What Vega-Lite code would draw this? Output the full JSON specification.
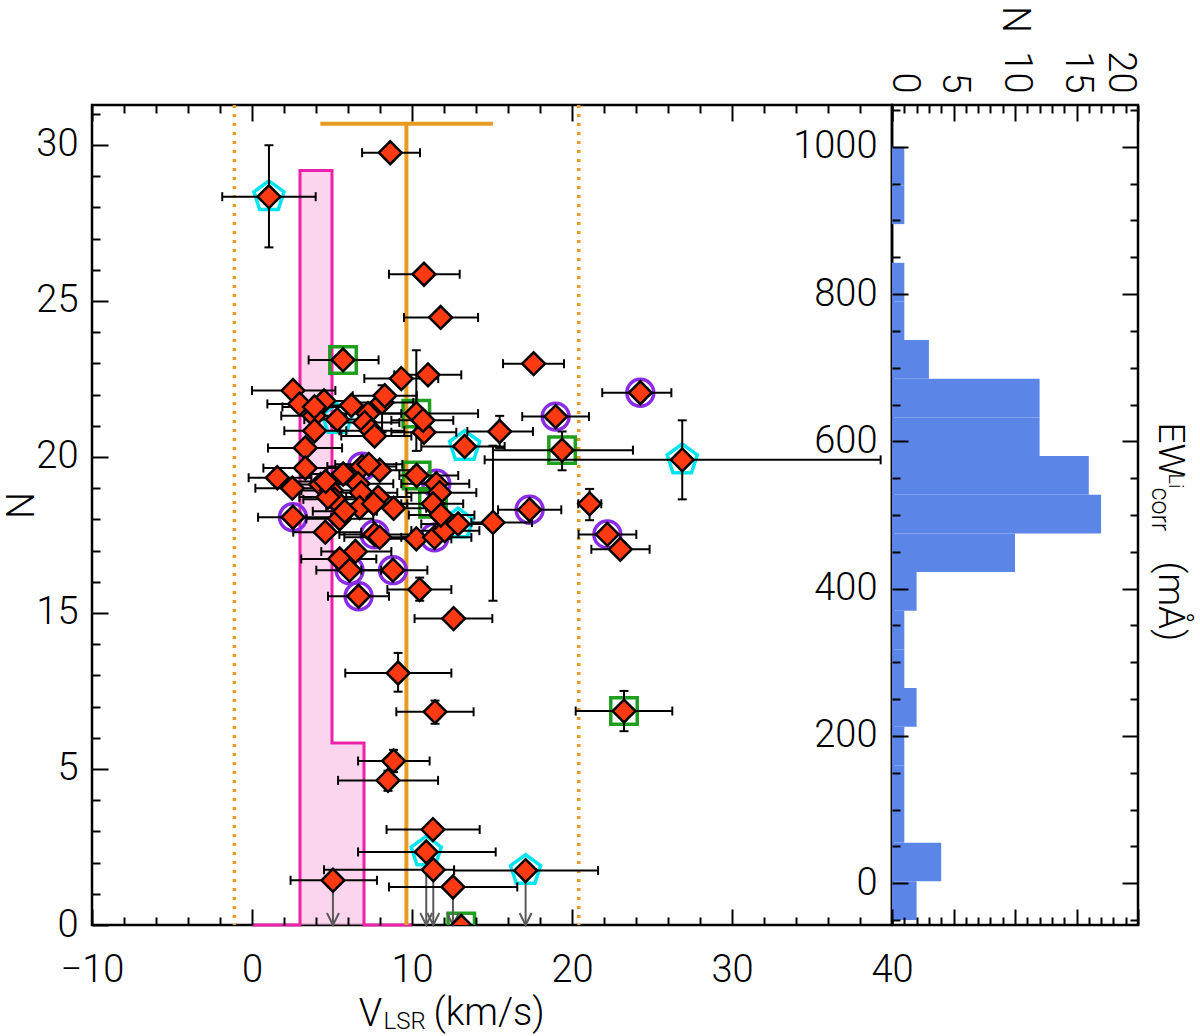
{
  "$schema": "https://vega.github.io/schema/vega-lite/v6.json",
  "background": "white",
  "padding": {"left": 1, "top": 4, "right": 16, "bottom": 0},
  "config": {
    "view": {"stroke": "black", "strokeWidth": 2.5},
    "axis": {
      "labelFont": "Roboto", "labelFontWeight": 300, "labelFontSize": 38, "labelColor": "black",
      "titleFont": "Roboto", "titleFontWeight": 300, "titleColor": "black",
      "tickColor": "black", "tickWidth": 2, "domain": false, "grid": false,
      "labelOverlap": false, "labelFlush": false
    }
  },
  "datasets": {
    "pinkBins": [
      {"v0": 3, "v1": 5, "n": 24.18},
      {"v0": 5, "v1": 7, "n": 5.83}
    ],
    "pinkOutline": [
      {"v": 0, "n": 0}, {"v": 3, "n": 24.18}, {"v": 5, "n": 5.83}, {"v": 7, "n": 0}, {"v": 10, "n": 0}
    ],
    "orange": [{"v": 9.65, "top": 1025, "lo": 4.27, "hi": 15.06}],
    "dotted": [{"v": -1.1}, {"v": 20.42}],
    "stars": [
      {"v":8.64,"vlo":6.88,"vhi":10.5,"ew":986},
      {"v":1.06,"vlo":-1.86,"vhi":3.98,"ew":927,"elo":859,"ehi":996,"mk":"pent"},
      {"v":10.75,"vlo":8.56,"vhi":12.98,"ew":823},
      {"v":11.79,"vlo":9.5,"vhi":14.13,"ew":765},
      {"v":5.69,"vlo":3.54,"vhi":7.91,"ew":708,"mk":"sq"},
      {"v":9.33,"vlo":7.02,"vhi":11.64,"ew":683},
      {"v":11.0,"vlo":8.89,"vhi":13.08,"ew":688},
      {"v":10.27,"vlo":7.46,"vhi":14.13,"ew":636,"elo":586,"ehi":721,"mk":"sq"},
      {"v":2.56,"vlo":0.0,"vhi":5.21,"ew":667},
      {"v":2.98,"vlo":0.96,"vhi":4.96,"ew":649},
      {"v":4.5,"vlo":2.77,"vhi":6.21,"ew":653},
      {"v":6.21,"vlo":4.21,"vhi":8.21,"ew":647},
      {"v":8.13,"vlo":6.02,"vhi":10.08,"ew":651,"elo":611,"ehi":674},
      {"v":8.3,"vlo":6.3,"vhi":10.3,"ew":660},
      {"v":3.88,"vlo":1.83,"vhi":5.89,"ew":633},
      {"v":5.33,"vlo":3.27,"vhi":7.58,"ew":628,"mk":"pent"},
      {"v":7.25,"vlo":5.27,"vhi":9.33,"ew":636},
      {"v":7.04,"vlo":4.96,"vhi":9.21,"ew":624},
      {"v":7.46,"vlo":5.46,"vhi":9.52,"ew":613},
      {"v":7.66,"vlo":5.58,"vhi":9.96,"ew":606},
      {"v":3.91,"vlo":2.02,"vhi":5.89,"ew":613},
      {"v":10.75,"vlo":8.71,"vhi":12.77,"ew":611},
      {"v":10.69,"vlo":8.71,"vhi":12.58,"ew":627},
      {"v":13.29,"vlo":10.58,"vhi":15.79,"ew":592,"mk":"pent"},
      {"v":15.48,"vlo":13.46,"vhi":17.56,"ew":612,"elo":590,"ehi":633},
      {"v":3.33,"vlo":1.0,"vhi":5.63,"ew":590},
      {"v":3.33,"vlo":0.71,"vhi":5.89,"ew":563},
      {"v":1.58,"vlo":-0.21,"vhi":3.71,"ew":550},
      {"v":2.52,"vlo":0.21,"vhi":4.96,"ew":536},
      {"v":4.29,"vlo":2.46,"vhi":6.21,"ew":541},
      {"v":4.96,"vlo":3.09,"vhi":7.15,"ew":533},
      {"v":5.16,"vlo":3.21,"vhi":7.33,"ew":521},
      {"v":4.75,"vlo":2.96,"vhi":6.83,"ew":524},
      {"v":6.88,"vlo":4.71,"vhi":9.02,"ew":565,"mk":"circ"},
      {"v":7.98,"vlo":5.89,"vhi":10.08,"ew":560},
      {"v":6.63,"vlo":4.33,"vhi":8.83,"ew":542},
      {"v":6.83,"vlo":4.64,"vhi":9.08,"ew":530},
      {"v":7.88,"vlo":5.89,"vhi":9.96,"ew":524},
      {"v":6.73,"vlo":4.64,"vhi":8.83,"ew":510},
      {"v":8.85,"vlo":6.83,"vhi":10.89,"ew":509},
      {"v":10.29,"vlo":9.21,"vhi":12.89,"ew":553,"mk":"sq"},
      {"v":11.52,"vlo":9.33,"vhi":13.58,"ew":542,"mk":"circ"},
      {"v":11.73,"vlo":9.65,"vhi":14.02,"ew":530},
      {"v":11.31,"vlo":9.33,"vhi":13.2,"ew":515,"mk":"sq"},
      {"v":2.56,"vlo":0.38,"vhi":4.96,"ew":497,"mk":"circ"},
      {"v":5.48,"vlo":3.39,"vhi":7.58,"ew":495},
      {"v":4.58,"vlo":2.58,"vhi":6.83,"ew":477},
      {"v":7.66,"vlo":5.46,"vhi":9.96,"ew":474,"mk":"circ"},
      {"v":7.98,"vlo":5.77,"vhi":10.27,"ew":470},
      {"v":10.27,"vlo":8.08,"vhi":12.46,"ew":468},
      {"v":11.41,"vlo":9.33,"vhi":13.71,"ew":470,"mk":"circ"},
      {"v":12.04,"vlo":9.96,"vhi":14.21,"ew":479},
      {"v":12.88,"vlo":10.58,"vhi":15.08,"ew":488,"mk":"pent"},
      {"v":15.06,"vlo":13.71,"vhi":17.5,"ew":490,"elo":385,"ehi":593},
      {"v":6.46,"vlo":4.33,"vhi":8.71,"ew":451},
      {"v":5.48,"vlo":3.08,"vhi":7.77,"ew":441},
      {"v":6.1,"vlo":4.02,"vhi":8.08,"ew":426,"mk":"circ"},
      {"v":8.81,"vlo":6.83,"vhi":10.96,"ew":426,"mk":"circ"},
      {"v":6.66,"vlo":4.75,"vhi":8.56,"ew":391,"mk":"circ"},
      {"v":10.48,"vlo":8.46,"vhi":12.46,"ew":400,"elo":385,"ehi":416},
      {"v":17.6,"vlo":15.69,"vhi":19.5,"ew":703},
      {"v":24.27,"vlo":21.89,"vhi":26.21,"ew":664,"mk":"circ"},
      {"v":18.98,"vlo":16.89,"vhi":21.06,"ew":632,"mk":"circ"},
      {"v":19.38,"vlo":15.06,"vhi":23.81,"ew":587,"elo":560,"ehi":612,"mk":"sq"},
      {"v":26.89,"vlo":14.54,"vhi":39.29,"ew":574,"elo":521,"ehi":627,"mk":"pent"},
      {"v":21.1,"vlo":20.39,"vhi":21.83,"ew":515,"elo":493,"ehi":535},
      {"v":17.35,"vlo":15.38,"vhi":19.33,"ew":507,"mk":"circ"},
      {"v":22.21,"vlo":20.41,"vhi":24.02,"ew":474,"mk":"circ"},
      {"v":23.02,"vlo":21.21,"vhi":24.85,"ew":454},
      {"v":12.6,"vlo":10.16,"vhi":15.02,"ew":361},
      {"v":9.13,"vlo":5.83,"vhi":12.46,"ew":288,"elo":263,"ehi":315},
      {"v":11.44,"vlo":9.02,"vhi":13.85,"ew":236,"elo":220,"ehi":251},
      {"v":23.25,"vlo":20.23,"vhi":26.27,"ew":237,"elo":210,"ehi":264,"mk":"sq"},
      {"v":8.85,"vlo":6.63,"vhi":11.1,"ew":170,"elo":155,"ehi":185},
      {"v":8.5,"vlo":5.38,"vhi":11.63,"ew":144,"elo":130,"ehi":157},
      {"v":11.31,"vlo":8.41,"vhi":14.23,"ew":78},
      {"v":10.89,"vlo":6.63,"vhi":15.23,"ew":48,"mk":"pent","ul":true},
      {"v":11.33,"vlo":4.5,"vhi":12.63,"ew":24,"ul":true},
      {"v":17.1,"vlo":12.63,"vhi":21.63,"ew":23,"mk":"pent","ul":true},
      {"v":5.06,"vlo":2.41,"vhi":7.81,"ew":10,"ul":true},
      {"v":12.56,"vlo":8.56,"vhi":16.58,"ew":1,"ul":true},
      {"v":13.08,"ew":-52,"mk":"sq"},
      {"v":4.6,"vlo":2.6,"vhi":6.7,"ew":545},
      {"v":7.3,"vlo":5.2,"vhi":9.4,"ew":568},
      {"v":5.7,"vlo":3.6,"vhi":7.8,"ew":555},
      {"v":7.6,"vlo":5.5,"vhi":9.7,"ew":515},
      {"v":11.8,"vlo":9.8,"vhi":13.9,"ew":500},
      {"v":5.8,"vlo":3.8,"vhi":7.8,"ew":505},
      {"v":3.9,"vlo":1.9,"vhi":6.0,"ew":645}
    ],
    "ewHist": [
      {"e0":-50,"e1":2.5,"n":2},{"e0":2.5,"e1":55,"n":4},{"e0":55,"e1":107.5,"n":1},
      {"e0":107.5,"e1":160,"n":1},{"e0":160,"e1":212.5,"n":1},{"e0":212.5,"e1":265,"n":2},
      {"e0":265,"e1":317.5,"n":1},{"e0":317.5,"e1":370,"n":1},{"e0":370,"e1":422.5,"n":2},
      {"e0":422.5,"e1":475,"n":10},{"e0":475,"e1":527.5,"n":17},{"e0":527.5,"e1":580,"n":16},
      {"e0":580,"e1":632.5,"n":12},{"e0":632.5,"e1":685,"n":12},{"e0":685,"e1":737.5,"n":3},
      {"e0":737.5,"e1":790,"n":1},{"e0":790,"e1":842.5,"n":1},{"e0":842.5,"e1":895,"n":0},
      {"e0":895,"e1":947.5,"n":1},{"e0":947.5,"e1":1000,"n":1}
    ]
  },
  "spacing": 0,
  "bounds": "flush",
  "hconcat": [
    {
      "width": 800,
      "height": 820,
      "resolve": {"scale": {"y": "independent"}, "axis": {"x": "independent", "y": "independent"}},
      "layer": [
        {
          "data": {"name": "pinkBins"},
          "mark": {"type": "rect", "fill": "#f7b2df", "fillOpacity": 0.55, "strokeWidth": 0},
          "encoding": {
            "x": {"field": "v0", "type": "quantitative", "scale": {"domain": [-10, 40], "nice": false, "zero": false},
              "axis": {"orient": "bottom", "values": [-10,-8,-6,-4,-2,0,2,4,6,8,10,12,14,16,18,20,22,24,26,28,30,32,34,36,38,40],
                "tickSize": {"expr": "(datum.value % 10 === 0 ? -16 : -8)"},
                "labelExpr": "datum.value % 10 === 0 ? datum.label : ''",
                "labelBaseline": "top", "labelAlign": "center", "labelPadding": 42,
                "title": "V", "titleFontSize": 38, "titleX": 278, "titleY": 100, "titleAlign": "center", "titleBaseline": "alphabetic", "titleAngle": 0, "zindex": 1}},
            "x2": {"field": "v1"},
            "y": {"field": "n", "type": "quantitative", "scale": {"domain": [0, 26.28], "nice": false, "zero": false},
              "axis": {"orient": "left", "values": [0,1,2,3,4,5,6,7,8,9,10,11,12,13,14,15,16,17,18,19,20,21,22,23,24,25,26],
                "tickSize": {"expr": "(datum.value % 5 === 0 ? -16 : -8)"},
                "labelExpr": "datum.value % 5 !== 0 ? '' : (datum.value < 10 ? datum.label : format(datum.value + 5, 'd'))",
                "labelAlign": "right", "labelBaseline": "middle", "labelPadding": 30,
                "title": "N", "titleFontSize": 38, "titleAngle": -90, "titleX": -70, "titleY": 400, "titleAlign": "center", "titleBaseline": "middle", "zindex": 1}},
            "y2": {"datum": 0}
          }
        },
        {
          "data": {"name": "pinkOutline"},
          "mark": {"type": "line", "interpolate": "step-after", "color": "#ee22aa", "strokeWidth": 3},
          "encoding": {
            "x": {"field": "v", "type": "quantitative", "scale": {"domain": [-10, 40], "nice": false, "zero": false},
              "axis": {"orient": "top", "values": [-10,-8,-6,-4,-2,0,2,4,6,8,10,12,14,16,18,20,22,24,26,28,30,32,34,36,38,40],
                "tickSize": {"expr": "(datum.value % 10 === 0 ? -16 : -8)"},
                "labels": false,
                "title": "LSR", "titleFontSize": 24, "titleX": 291, "titleY": 923, "titleAlign": "left", "titleBaseline": "alphabetic", "titleAngle": 0, "zindex": 1}},
            "y": {"field": "n", "type": "quantitative", "scale": {"domain": [0, 26.28], "nice": false, "zero": false}, "axis": null}
          }
        },
        {
          "data": {"name": "orange"},
          "mark": {"type": "rule", "color": "#e89b22", "strokeWidth": 4},
          "encoding": {
            "x": {"field": "v", "type": "quantitative", "scale": {"domain": [-10, 40], "nice": false, "zero": false},
              "axis": {"orient": "bottom", "ticks": false, "labels": false, "domain": false,
                "title": "(km/s)", "titleFontSize": 38, "titleX": 341, "titleY": 99, "titleAlign": "left", "titleBaseline": "alphabetic", "titleAngle": 0}},
            "y": {"field": "top", "type": "quantitative", "scale": {"domain": [-50, 1050], "nice": false, "zero": false}, "axis": null},
            "y2": {"datum": -50}
          }
        },
        {
          "data": {"name": "orange"},
          "mark": {"type": "rule", "color": "#e89b22", "strokeWidth": 4},
          "encoding": {
            "x": {"field": "lo", "type": "quantitative", "scale": {"domain": [-10, 40], "nice": false, "zero": false}, "axis": null},
            "x2": {"field": "hi"},
            "y": {"field": "top", "type": "quantitative", "scale": {"domain": [-50, 1050], "nice": false, "zero": false}, "axis": null}
          }
        },
        {
          "data": {"name": "dotted"},
          "mark": {"type": "rule", "color": "#e89b22", "strokeWidth": 3.5, "strokeDash": [3, 6]},
          "encoding": {
            "x": {"field": "v", "type": "quantitative", "scale": {"domain": [-10, 40], "nice": false, "zero": false}, "axis": null}
          }
        },
        {
          "data": {"name": "stars"},
          "transform": [{"filter": "datum.mk === 'pent'"}],
          "mark": {"type": "point", "shape": "M0,-1L0.951,-0.309L0.588,0.809L-0.588,0.809L-0.951,-0.309Z", "filled": false, "stroke": "#00e4f0", "strokeWidth": 3.5, "size": 1000, "opacity": 1, "clip": true},
          "encoding": {
            "x": {"field": "v", "type": "quantitative", "scale": {"domain": [-10, 40], "nice": false, "zero": false}, "axis": null},
            "y": {"field": "ew", "type": "quantitative", "scale": {"domain": [-50, 1050], "nice": false, "zero": false}, "axis": null}
          }
        },
        {
          "data": {"name": "stars"},
          "transform": [{"filter": "datum.mk === 'circ'"}],
          "mark": {"type": "point", "shape": "circle", "filled": false, "stroke": "#8a2be6", "strokeWidth": 3.5, "size": 720, "opacity": 1, "clip": true},
          "encoding": {
            "x": {"field": "v", "type": "quantitative", "scale": {"domain": [-10, 40], "nice": false, "zero": false}, "axis": null},
            "y": {"field": "ew", "type": "quantitative", "scale": {"domain": [-50, 1050], "nice": false, "zero": false}, "axis": null}
          }
        },
        {
          "data": {"name": "stars"},
          "transform": [{"filter": "datum.mk === 'sq'"}],
          "mark": {"type": "point", "shape": "square", "filled": false, "stroke": "#1f9e1f", "strokeWidth": 3.5, "size": 700, "opacity": 1, "clip": true},
          "encoding": {
            "x": {"field": "v", "type": "quantitative", "scale": {"domain": [-10, 40], "nice": false, "zero": false}, "axis": null},
            "y": {"field": "ew", "type": "quantitative", "scale": {"domain": [-50, 1050], "nice": false, "zero": false}, "axis": null}
          }
        },
        {
          "data": {"name": "stars"},
          "transform": [{"filter": "datum.ul === true"}],
          "mark": {"type": "rule", "color": "#5a5a5a", "strokeWidth": 2},
          "encoding": {
            "x": {"field": "v", "type": "quantitative", "scale": {"domain": [-10, 40], "nice": false, "zero": false}, "axis": null},
            "y": {"field": "ew", "type": "quantitative", "scale": {"domain": [-50, 1050], "nice": false, "zero": false}, "axis": null},
            "y2": {"datum": -50}
          }
        },
        {
          "data": {"name": "stars"},
          "transform": [{"filter": "datum.ul === true"}],
          "mark": {"type": "point", "shape": "M-0.5,-1L0,0L0.5,-1", "filled": false, "stroke": "#5a5a5a", "strokeWidth": 2, "size": 576, "opacity": 1},
          "encoding": {
            "x": {"field": "v", "type": "quantitative", "scale": {"domain": [-10, 40], "nice": false, "zero": false}, "axis": null},
            "y": {"datum": -50, "type": "quantitative", "scale": {"domain": [-50, 1050], "nice": false, "zero": false}, "axis": null}
          }
        },
        {
          "data": {"name": "stars"},
          "transform": [{"filter": "isValid(datum.vlo)"}],
          "mark": {"type": "rule", "color": "black", "strokeWidth": 2},
          "encoding": {
            "x": {"field": "vlo", "type": "quantitative", "scale": {"domain": [-10, 40], "nice": false, "zero": false}, "axis": null},
            "x2": {"field": "vhi"},
            "y": {"field": "ew", "type": "quantitative", "scale": {"domain": [-50, 1050], "nice": false, "zero": false}, "axis": null}
          }
        },
        {
          "data": {"name": "stars"},
          "transform": [{"filter": "isValid(datum.vlo)"}],
          "mark": {"type": "tick", "orient": "vertical", "color": "black", "size": 9, "thickness": 2, "opacity": 1},
          "encoding": {
            "x": {"field": "vlo", "type": "quantitative", "scale": {"domain": [-10, 40], "nice": false, "zero": false}, "axis": null},
            "y": {"field": "ew", "type": "quantitative", "scale": {"domain": [-50, 1050], "nice": false, "zero": false}, "axis": null}
          }
        },
        {
          "data": {"name": "stars"},
          "transform": [{"filter": "isValid(datum.vhi)"}],
          "mark": {"type": "tick", "orient": "vertical", "color": "black", "size": 9, "thickness": 2, "opacity": 1},
          "encoding": {
            "x": {"field": "vhi", "type": "quantitative", "scale": {"domain": [-10, 40], "nice": false, "zero": false}, "axis": null},
            "y": {"field": "ew", "type": "quantitative", "scale": {"domain": [-50, 1050], "nice": false, "zero": false}, "axis": null}
          }
        },
        {
          "data": {"name": "stars"},
          "transform": [{"filter": "isValid(datum.elo)"}],
          "mark": {"type": "rule", "color": "black", "strokeWidth": 2},
          "encoding": {
            "x": {"field": "v", "type": "quantitative", "scale": {"domain": [-10, 40], "nice": false, "zero": false}, "axis": null},
            "y": {"field": "elo", "type": "quantitative", "scale": {"domain": [-50, 1050], "nice": false, "zero": false}, "axis": null},
            "y2": {"field": "ehi"}
          }
        },
        {
          "data": {"name": "stars"},
          "transform": [{"filter": "isValid(datum.elo)"}],
          "mark": {"type": "tick", "orient": "horizontal", "color": "black", "size": 9, "thickness": 2, "opacity": 1},
          "encoding": {
            "x": {"field": "v", "type": "quantitative", "scale": {"domain": [-10, 40], "nice": false, "zero": false}, "axis": null},
            "y": {"field": "elo", "type": "quantitative", "scale": {"domain": [-50, 1050], "nice": false, "zero": false}, "axis": null}
          }
        },
        {
          "data": {"name": "stars"},
          "transform": [{"filter": "isValid(datum.ehi)"}],
          "mark": {"type": "tick", "orient": "horizontal", "color": "black", "size": 9, "thickness": 2, "opacity": 1},
          "encoding": {
            "x": {"field": "v", "type": "quantitative", "scale": {"domain": [-10, 40], "nice": false, "zero": false}, "axis": null},
            "y": {"field": "ehi", "type": "quantitative", "scale": {"domain": [-50, 1050], "nice": false, "zero": false}, "axis": null}
          }
        },
        {
          "data": {"name": "stars"},
          "mark": {"type": "point", "shape": "diamond", "filled": true, "fill": "#ff3a12", "stroke": "black", "strokeWidth": 2.5, "size": 520, "opacity": 1, "clip": true},
          "encoding": {
            "x": {"field": "v", "type": "quantitative", "scale": {"domain": [-10, 40], "nice": false, "zero": false}, "axis": null},
            "y": {"field": "ew", "type": "quantitative", "scale": {"domain": [-50, 1050], "nice": false, "zero": false}, "axis": null}
          }
        }
      ]
    },
    {
      "width": 246,
      "height": 820,
      "resolve": {"axis": {"x": "independent", "y": "independent"}},
      "layer": [
        {
          "data": {"name": "ewHist"},
          "mark": {"type": "bar", "orient": "horizontal", "fill": "#5b86e8", "strokeWidth": 0},
          "encoding": {
            "x": {"field": "n", "type": "quantitative", "scale": {"domain": [0, 20], "nice": false, "zero": false},
              "axis": {"orient": "top", "values": [0,1,2,3,4,5,6,7,8,9,10,11,12,13,14,15,16,17,18,19,20],
                "tickSize": {"expr": "(datum.value % 5 === 0 ? -16 : -8)"},
                "labelExpr": "datum.value % 5 === 0 ? datum.label : ''",
                "labelAngle": 90, "labelAlign": "right",
                "labelBaseline": {"expr": "datum.value === 0 ? 'alphabetic' : (datum.value === 20 ? 'top' : 'middle')"},
                "labelPadding": 28,
                "title": "N", "titleFontSize": 38, "titleAngle": 90, "titleX": 121, "titleY": -86, "titleAlign": "center", "titleBaseline": "middle", "zindex": 1}},
            "y": {"field": "e0", "type": "quantitative", "scale": {"domain": [-50, 1050], "nice": false, "zero": false},
              "axis": {"orient": "left", "values": [-50,0,50,100,150,200,250,300,350,400,450,500,550,600,650,700,750,800,850,900,950,1000,1050],
                "tickSize": {"expr": "(datum.value % 200 === 0 ? -16 : -8)"},
                "labelExpr": "datum.value % 200 === 0 ? format(datum.value, 'd') : ''",
                "labelAlign": "right", "labelBaseline": "middle", "labelPadding": 31,
                "title": null, "zindex": 1}},
            "y2": {"field": "e1"}
          }
        },
        {
          "data": {"name": "ewHist"},
          "mark": {"type": "bar", "orient": "horizontal", "opacity": 0},
          "encoding": {
            "x": {"field": "n", "type": "quantitative", "scale": {"domain": [0, 20], "nice": false, "zero": false},
              "axis": {"orient": "bottom", "values": [0,1,2,3,4,5,6,7,8,9,10,11,12,13,14,15,16,17,18,19,20],
                "tickSize": {"expr": "(datum.value % 5 === 0 ? -16 : -8)"},
                "labels": false,
                "title": "Li", "titleFontSize": 20, "titleAngle": 90, "titleX": 276, "titleY": -452, "titleAlign": "left", "titleBaseline": "alphabetic", "zindex": 1}},
            "y": {"field": "e0", "type": "quantitative", "scale": {"domain": [-50, 1050], "nice": false, "zero": false},
              "axis": {"orient": "right", "values": [-50,0,50,100,150,200,250,300,350,400,450,500,550,600,650,700,750,800,850,900,950,1000,1050],
                "tickSize": {"expr": "(datum.value % 200 === 0 ? -16 : -8)"},
                "labels": false,
                "title": "EW", "titleFontSize": 37, "titleAngle": 90, "titleX": 20, "titleY": 317, "titleAlign": "left", "titleBaseline": "alphabetic", "zindex": 1}},
            "y2": {"field": "e1"}
          }
        },
        {
          "data": {"name": "ewHist"},
          "mark": {"type": "bar", "orient": "horizontal", "opacity": 0},
          "encoding": {
            "x": {"field": "n", "type": "quantitative", "scale": {"domain": [0, 20], "nice": false, "zero": false},
              "axis": {"orient": "bottom", "ticks": false, "labels": false, "domain": false,
                "title": "corr", "titleFontSize": 25, "titleAngle": 90, "titleX": 259, "titleY": -438, "titleAlign": "left", "titleBaseline": "alphabetic"}},
            "y": {"field": "e0", "type": "quantitative", "scale": {"domain": [-50, 1050], "nice": false, "zero": false},
              "axis": {"orient": "right", "ticks": false, "labels": false, "domain": false,
                "title": "(mÅ)", "titleFontSize": 37, "titleAngle": 90, "titleX": 20, "titleY": 456, "titleAlign": "left", "titleBaseline": "alphabetic"}},
            "y2": {"field": "e1"}
          }
        }
      ]
    }
  ]
}
